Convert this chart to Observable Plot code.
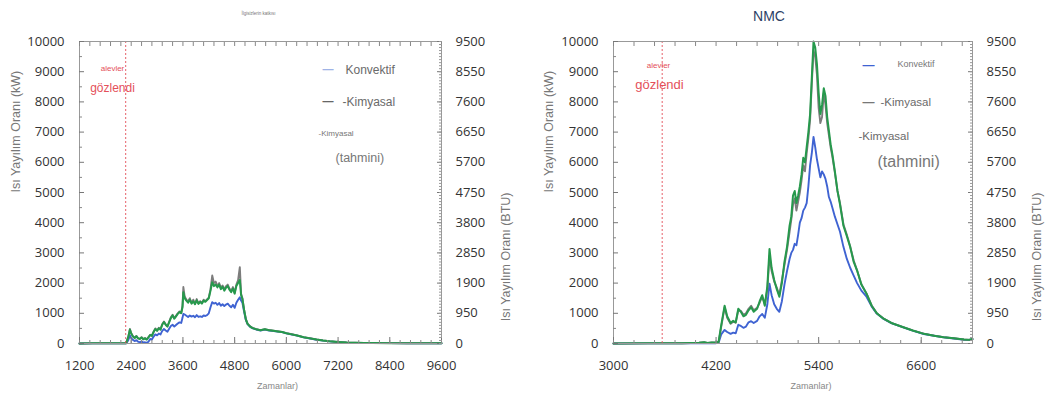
<!DOCTYPE html>
<html><head><meta charset="utf-8">
<script src="https://cdn.jsdelivr.net/npm/d3@7"></script>
<script src="https://cdn.jsdelivr.net/npm/@observablehq/plot@0.6"></script>
<style>
body{margin:0;background:#fff;}
#wrap{display:flex;width:1049px;height:405px;overflow:hidden;}
#wrap svg{display:block;}
</style></head><body><div id="wrap"><div id="a"></div><div id="b"></div></div>
<script>
// ---------- Left chart (LFP) ----------
const lfpTime = [1200,1500,1800,2100,2280,2330,2370,2400,2440,2480,2520,2560,2600,2640,2680,2720,2760,2800,2840,2880,2920,2960,3000,3040,3080,3120,3160,3200,3240,3280,3320,3360,3400,3440,3480,3520,3560,3590,3610,3640,3680,3720,3760,3800,3840,3880,3920,3960,4000,4040,4080,4120,4160,4200,4240,4280,4320,4360,4400,4440,4480,4520,4560,4600,4640,4680,4720,4760,4800,4840,4880,4920,4950,4980,5020,5060,5100,5160,5220,5300,5400,5500,5600,5700,5800,5900,6000,6100,6250,6400,6550,6700,6850,7000,7200,7400,7600,7800,8000,8400,8800,9200,9600];
const lfpTahmini = [0,5,6,5,10,200,460,330,230,180,240,170,150,200,140,170,130,200,280,250,380,480,420,500,460,620,710,620,560,700,840,930,820,900,980,1040,1000,1200,1700,1500,1420,1350,1450,1320,1400,1300,1430,1310,1380,1320,1420,1380,1440,1500,1750,2030,1900,1950,1860,1950,1800,1880,1750,1850,1900,1780,1700,1820,1650,1900,2000,2100,1600,1480,1100,800,650,560,510,470,440,470,440,420,400,380,340,310,265,210,170,130,100,75,50,30,22,18,15,12,10,8,8];
const lfpKimyasal = [0,5,6,5,10,210,480,340,240,190,250,170,160,210,150,180,140,210,290,260,390,500,430,520,470,640,730,630,570,720,870,950,840,920,1000,1060,1010,1250,1870,1560,1450,1400,1500,1340,1450,1320,1470,1330,1400,1340,1450,1400,1460,1520,1800,2250,2000,2050,1900,2000,1850,1920,1800,1900,1950,1820,1740,1870,1680,1950,2100,2530,1650,1500,1120,810,660,570,515,475,445,475,445,425,405,385,345,315,270,212,172,132,102,77,52,32,23,19,16,13,10,8,8];
const lfpKonvektif = [0,3,4,3,5,100,270,180,120,80,110,60,40,70,30,40,20,60,150,130,230,300,270,330,300,420,480,430,390,490,580,620,560,610,660,700,680,850,980,960,920,880,930,890,920,870,940,880,900,880,930,910,940,1000,1200,1370,1320,1350,1280,1340,1250,1300,1240,1290,1320,1250,1200,1280,1180,1350,1450,1530,1420,1350,1050,780,640,550,500,465,430,460,430,410,395,375,335,305,260,205,165,125,95,70,45,28,20,16,14,11,9,7,7];
const lfpFlames = 2270;

// ---------- Right chart (NMC) ----------
const nmcTime = [3000,3400,3800,4000,4060,4100,4150,4200,4230,4260,4300,4330,4370,4400,4430,4460,4490,4520,4550,4580,4610,4640,4680,4710,4740,4770,4800,4825,4850,4880,4910,4940,4970,5000,5030,5060,5080,5100,5120,5140,5160,5180,5200,5220,5240,5260,5280,5300,5320,5340,5360,5380,5400,5420,5440,5460,5480,5500,5520,5540,5560,5590,5620,5650,5690,5730,5770,5810,5850,5900,5960,6020,6080,6160,6250,6390,6500,6630,6750,6860,6980,7100,7160,7200];
const nmcTahmini = [0,5,10,25,45,20,35,30,60,600,1250,900,680,750,700,1150,1050,900,950,1100,1200,1050,1150,1400,1600,1250,1900,3130,2500,2100,1800,1550,2000,2700,3200,3900,4200,4900,5050,4650,4900,5200,5600,6150,6000,6500,7000,7600,8800,10000,9800,9250,8300,7600,7900,8450,8200,7500,7050,6600,6280,5700,5060,4600,3900,3550,3190,2700,2415,1950,1650,1250,1000,820,680,540,430,320,260,210,170,130,120,150];
const nmcKimyasal = [0,5,10,25,40,20,35,30,50,550,1200,850,650,720,690,1100,1080,950,1000,1150,1250,1100,1180,1350,1550,1300,1800,2900,2400,2050,1850,1600,2100,2600,3100,3700,4100,4600,4800,4400,4700,5000,5400,5900,5700,6300,6800,7400,8600,9700,9500,8900,7800,7300,7500,8300,7900,7300,6900,6500,6200,5650,5050,4650,3950,3600,3200,2750,2420,1960,1660,1260,1005,825,685,545,435,325,262,212,172,132,122,150];
const nmcKonvektif = [0,3,5,10,15,8,12,10,30,300,450,380,320,360,340,620,580,520,560,700,740,680,750,900,980,850,1300,1980,1600,1300,1150,1050,1400,1950,2400,2800,3000,3100,3300,3250,3600,4000,4150,4400,4500,4650,5200,5900,6300,6840,6500,6100,5800,5500,5700,5600,5450,5200,4850,4700,4500,4200,3950,3700,3200,2800,2500,2250,2000,1750,1550,1230,990,815,675,535,425,315,255,205,165,125,115,140];
const nmcFlames = 3570;

// ---------- Axes ----------
const kwTicks = [0,1000,2000,3000,4000,5000,6000,7000,8000,9000,10000];
const btuTickLabels = ["0","950","1900","2850","3800","4750","5700","6650","7600","8550","9500"];
const lfpXTicks = [1200,2400,3600,4800,6000,7200,8400,9600];
const nmcXTicks = [3000,4200,5400,6600];

const COL = {blue:"#3f63d2", gray:"#7c7c7c", green:"#26994c", red:"#e4505a"};
const FONT_T = "'Open Sans', sans-serif";
const FONT = "'Liberation Sans', Arial, sans-serif";
const fmt = d3.format("d");

function chart(o){
  const rows = o.time.map((t,i)=>({t, g:o.tahmini[i], k:o.kimyasal[i], b:o.konvektif[i]}));
  const [x0,x1] = o.domain;
  const minorX = d3.range(x0, x1+1, 240);
  const minorYL = d3.range(500, 10000, 1000);
  const minorYR = d3.range(0, 10001, 100);
  const W = o.width, ml = o.ml, mr = o.mr, mt = 41, mb = 62;
  return Plot.plot({
    width: W, height: 405, marginLeft: ml, marginRight: mr, marginTop: mt, marginBottom: mb,
    style: {fontFamily: FONT_T, color: "#333", background: "#fff"},
    x: {domain: o.domain},
    y: {domain: [0, 10000]},
    marks: [
      Plot.line(rows, {x:"t", y:"b", stroke: COL.blue, strokeWidth: 1.9}),
      Plot.line(rows, {x:"t", y:"k", stroke: COL.gray, strokeWidth: 1.9}),
      Plot.line(rows, {x:"t", y:"g", stroke: COL.green, strokeWidth: 2}),
      Plot.ruleX([o.flames], {stroke: COL.red, strokeDasharray: "2,2", strokeWidth: 1.2, strokeOpacity: 0.75}),
      Plot.frame({stroke: "#999"}),
      Plot.axisX({ticks: o.xTicks, tickSize: -6, tickPadding: 23, tickFormat: fmt, fontSize: 13, label: null, stroke: "#777", fill: "#333"}),
      Plot.axisX({ticks: minorX, tickSize: -3, tickFormat: () => "", label: null, stroke: "#888"}),
      Plot.axisX({anchor: "top", ticks: minorX, tickSize: -4, tickFormat: () => "", label: null, stroke: "#888"}),
      Plot.axisY({ticks: kwTicks, tickSize: -5, tickPadding: 20, tickFormat: fmt, fontSize: 13, label: null, stroke: "#777", fill: "#333"}),
      Plot.axisY({ticks: minorYL, tickSize: -3, tickFormat: () => "", label: null, stroke: "#888"}),
      Plot.axisY({anchor: "right", ticks: kwTicks, tickFormat: (d,i) => btuTickLabels[i], tickSize: -5, tickPadding: 19, fontSize: 13, label: null, stroke: "#777", fill: "#333"}),
      Plot.axisY({anchor: "right", ticks: minorYR, tickSize: -3, tickFormat: () => "", label: null, stroke: "#999"}),
      // axis titles
      Plot.text(["Isı Yayılım Oranı (kW)"], {frameAnchor: "left", rotate: -90, dx: -(ml - o.lab), fontSize: 12.5, fill: "#777", fontFamily: FONT}),
      Plot.text(["Isı Yayılım Oranı (BTU)"], {frameAnchor: "right", rotate: -90, dx: o.rab, fontSize: 12.5, fill: "#777", fontFamily: FONT}),
      Plot.text(["Zamanlar)"], {frameAnchor: "bottom", dx: o.xlabDx, dy: 45, fontSize: 9, fill: "#888", fontFamily: FONT}),
      // title
      Plot.text([o.title], {frameAnchor: "top", dx: o.titleDx, dy: -30, fontSize: o.titleSize, fill: o.titleColor, fontFamily: FONT}),
      // annotations and legend
      ...o.annot.map(a => Plot.text([a.text], {frameAnchor: "top-left", dx: a.dx, dy: a.dy, fontSize: a.size, fill: a.color, fontFamily: FONT, fontWeight: a.weight || "normal", textAnchor: a.anchor || "start"}))
    ]
  });
}

const lfpAnnot = [
  {text:"alevler", dx: 33, dy: 24, size: 8, color: COL.red, anchor:"middle"},
  {text:"gözlendi", dx: 33, dy: 42, size: 12, color: COL.red, anchor:"middle"},
  {text:"—", dx: 243, dy: 24, size: 11, color: "#9fb3e6", weight: "bold"},
  {text:"Konvektif", dx: 266, dy: 24, size: 12, color: "#6a6a6a"},
  {text:"—", dx: 243, dy: 56, size: 11, color: "#666", weight: "bold"},
  {text:"-Kimyasal", dx: 263, dy: 56, size: 12, color: "#6a6a6a"},
  {text:"-Kimyasal", dx: 239, dy: 89, size: 8, color: "#777"},
  {text:"(tahmini)", dx: 256, dy: 112, size: 12.5, color: "#777"}
];
const nmcAnnot = [
  {text:"alevler", dx: 45, dy: 21, size: 8, color: COL.red, anchor:"middle"},
  {text:"gözlendi", dx: 46, dy: 38, size: 13, color: COL.red, anchor:"middle"},
  {text:"—", dx: 249, dy: 19, size: 12, color: COL.blue, weight: "bold"},
  {text:"Konvektif", dx: 284, dy: 19, size: 9, color: "#777"},
  {text:"—", dx: 249, dy: 56, size: 12, color: "#777", weight: "bold"},
  {text:"-Kimyasal", dx: 267, dy: 56, size: 11.5, color: "#6a6a6a"},
  {text:"-Kimyasal", dx: 245, dy: 90, size: 11.5, color: "#6a6a6a"},
  {text:"(tahmini)", dx: 264, dy: 114, size: 16, color: "#777"}
];

document.getElementById("a").appendChild(chart({
  time: lfpTime, tahmini: lfpTahmini, kimyasal: lfpKimyasal, konvektif: lfpKonvektif,
  flames: lfpFlames, domain: [1200, 9600], xTicks: lfpXTicks,
  width: 520, ml: 79, mr: 79, lab: 15, rab: 64, xlabDx: 17,
  title: "İlgisizlerin katkısı", titleDx: -2, titleSize: 4.5, titleColor: "#777",
  annot: lfpAnnot
}));
document.getElementById("b").appendChild(chart({
  time: nmcTime, tahmini: nmcTahmini, kimyasal: nmcKimyasal, konvektif: nmcKonvektif,
  flames: nmcFlames, domain: [3000, 7200], xTicks: nmcXTicks,
  width: 529, ml: 93, mr: 77, lab: 28, rab: 64, xlabDx: 18,
  title: "NMC", titleDx: -24, titleSize: 14, titleColor: "#2d3f66",
  annot: nmcAnnot
}));
</script></body></html>
